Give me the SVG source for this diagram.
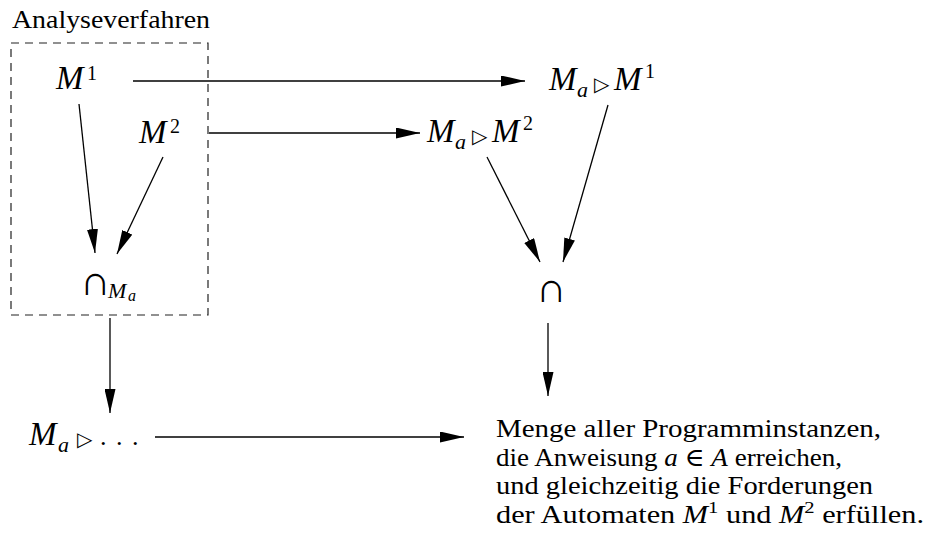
<svg xmlns="http://www.w3.org/2000/svg" width="926" height="541" viewBox="0 0 926 541">
<style>
text{font-family:"Liberation Serif","DejaVu Serif",serif;fill:#000}
.t{font-size:25px}
.m{font-size:33px;font-style:italic}
.sup{font-size:20px;font-style:normal}
.sub{font-size:22px;font-style:italic}
.sm{font-size:16px;font-style:italic}
.tri{font-family:"DejaVu Sans",sans-serif;font-size:20px}
.cap{font-family:"Liberation Serif","DejaVu Sans",serif;font-size:42px}
.dot{font-size:26px}
.ln{stroke:#000;stroke-width:1.3;fill:none;marker-end:url(#ah)}
</style>
<defs>
<marker id="ah" markerUnits="userSpaceOnUse" markerWidth="24" markerHeight="11" refX="24" refY="5.5" orient="auto">
<path d="M0,0 L24,5.5 L0,11 Z" fill="#000"/>
</marker>
</defs>
<rect x="11" y="43" width="197" height="272" fill="none" stroke="#222" stroke-width="1.2" stroke-dasharray="8,6"/>
<text x="12" y="28" class="t" textLength="198" lengthAdjust="spacingAndGlyphs">Analyseverfahren</text>
<g id="M1"><text x="56" y="89" class="m">M</text><text x="87" y="80" class="sup">1</text></g>
<g id="M2"><text x="139" y="143" class="m">M</text><text x="170" y="133" class="sup">2</text></g>
<g id="capMa"><text x="80" y="295"><tspan class="cap" font-size="38px">∩</tspan><tspan x="108" dy="3" class="sub" font-size="21px">M</tspan><tspan x="128" dy="3" class="sm">a</tspan></text></g>
<g id="MaM1"><text x="549" y="90" class="m">M</text><text x="577" y="97" class="sub">a</text><text x="594" y="91" class="tri">▷</text><text x="614" y="90" class="m">M</text><text x="645" y="78" class="sup">1</text></g>
<g id="MaM2"><text x="427" y="142" class="m">M</text><text x="455" y="149" class="sub">a</text><text x="472" y="143" class="tri">▷</text><text x="492" y="142" class="m">M</text><text x="523" y="130" class="sup">2</text></g>
<g id="cap"><text x="536" y="302" class="cap">∩</text></g>
<g id="MaDots"><text x="29" y="445" class="m">M</text><text x="58" y="452" class="sub">a</text><text x="77" y="446" class="tri">▷</text><text x="100" y="445" class="dot">.</text><text x="116" y="445" class="dot">.</text><text x="132" y="445" class="dot">.</text></g>
<g id="Menge">
<text x="496" y="437" class="t" textLength="385" lengthAdjust="spacingAndGlyphs">Menge aller Programminstanzen,</text>
<text x="496" y="466" class="t" textLength="346" lengthAdjust="spacingAndGlyphs">die Anweisung <tspan font-style="italic">a</tspan> ∈ <tspan font-style="italic">A</tspan> erreichen,</text>
<text x="496" y="494" class="t" textLength="377" lengthAdjust="spacingAndGlyphs">und gleichzeitig die Forderungen</text>
<text x="496" y="523" class="t" textLength="428" lengthAdjust="spacingAndGlyphs">der Automaten <tspan font-style="italic">M</tspan><tspan font-size="17px" dy="-10">1</tspan><tspan dy="10"> und </tspan><tspan font-style="italic">M</tspan><tspan font-size="17px" dy="-10">2</tspan><tspan dy="10"> erfüllen.</tspan></text>
</g>
<g id="connectors">
<line class="ln" x1="133" y1="81" x2="525" y2="81"/>
<line class="ln" x1="209" y1="133" x2="420" y2="133"/>
<line class="ln" x1="79" y1="104" x2="95" y2="253"/>
<line class="ln" x1="163" y1="157" x2="117" y2="254"/>
<line class="ln" x1="110" y1="318" x2="110" y2="413"/>
<line class="ln" x1="155" y1="437" x2="464" y2="437"/>
<line class="ln" x1="487" y1="157" x2="540" y2="262"/>
<line class="ln" x1="608" y1="105" x2="563" y2="262"/>
<line class="ln" x1="548" y1="323" x2="548" y2="396"/>
</g>
</svg>
